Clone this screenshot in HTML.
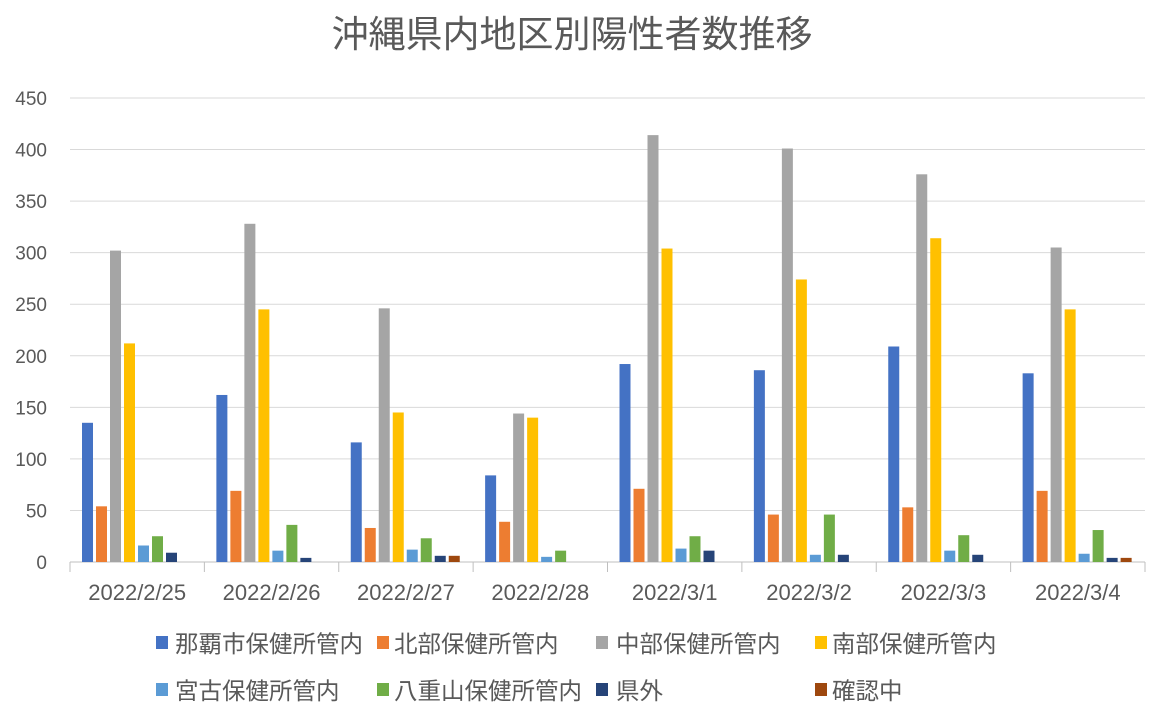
<!DOCTYPE html>
<html><head><meta charset="utf-8">
<style>
html,body{margin:0;padding:0;background:#fff;}
svg{display:block;font-family:"Liberation Sans","Noto Sans CJK JP",sans-serif;}
</style></head>
<body>
<svg id="c" width="1152" height="710" xmlns="http://www.w3.org/2000/svg">
<rect width="1152" height="710" fill="#fff"/>
<text x="572" y="47" text-anchor="middle" font-size="37" fill="#595959">沖縄県内地区別陽性者数推移</text>
<g id="g"></g>
<g font-size="23.5" fill="#595959">
<rect x="156" y="636" width="12" height="13" fill="#4472C4"/><text x="175" y="652">那覇市保健所管内</text>
<rect x="377" y="636" width="12" height="13" fill="#ED7D31"/><text x="394" y="652">北部保健所管内</text>
<rect x="596" y="636" width="12" height="13" fill="#A5A5A5"/><text x="616" y="652">中部保健所管内</text>
<rect x="815" y="636" width="12" height="13" fill="#FFC000"/><text x="832" y="652">南部保健所管内</text>
<rect x="156" y="683" width="12" height="13" fill="#5B9BD5"/><text x="175" y="699">宮古保健所管内</text>
<rect x="377" y="683" width="12" height="13" fill="#70AD47"/><text x="394" y="699">八重山保健所管内</text>
<rect x="596" y="683" width="12" height="13" fill="#264478"/><text x="616" y="699">県外</text>
<rect x="815" y="683" width="12" height="13" fill="#9E480E"/><text x="832" y="699">確認中</text>
</g>
</svg>
<script>
var data=[[135,54,302,212,16,25,9,0],[162,69,328,245,11,36,4,0],[116,33,246,145,12,23,6,6],[84,39,144,140,5,11,0,0],[192,71,414,304,13,25,11,0],[186,46,401,274,7,46,7,0],[209,53,376,314,11,26,7,0],[183,69,305,245,8,31,4,4]];
var labels=["2022/2/25","2022/2/26","2022/2/27","2022/2/28","2022/3/1","2022/3/2","2022/3/3","2022/3/4"];
var cols=["#4472C4","#ED7D31","#A5A5A5","#FFC000","#5B9BD5","#70AD47","#264478","#9E480E"];
var s="",y0=562,k=464/450;
for(var v=0;v<=450;v+=50){var y=y0-v*k;
 if(v>0)s+='<line x1="70" x2="1145" y1="'+y+'" y2="'+y+'" stroke="#D9D9D9" stroke-width="1"/>';
 s+='<text x="47" y="'+(y+7)+'" text-anchor="end" font-size="19" fill="#595959">'+v+'</text>';}
s+='<line x1="70" x2="1145" y1="562" y2="562" stroke="#BFBFBF"/>';
var gw=(1145-70)/8;
for(var i=0;i<=8;i++){var x=70+i*gw;s+='<line x1="'+x+'" x2="'+x+'" y1="562" y2="572" stroke="#BFBFBF"/>';}
for(var i=0;i<8;i++){var gx=70+i*gw;
 for(var j=0;j<8;j++){var h=data[i][j]*k;if(h>0)s+='<rect x="'+(gx+12+j*14)+'" y="'+(y0-h)+'" width="11" height="'+h+'" fill="'+cols[j]+'"/>';}
 s+='<text x="'+(gx+gw/2)+'" y="600" text-anchor="middle" font-size="22" fill="#595959">'+labels[i]+'</text>';}
document.getElementById("g").innerHTML=s;
</script>
</body></html>
